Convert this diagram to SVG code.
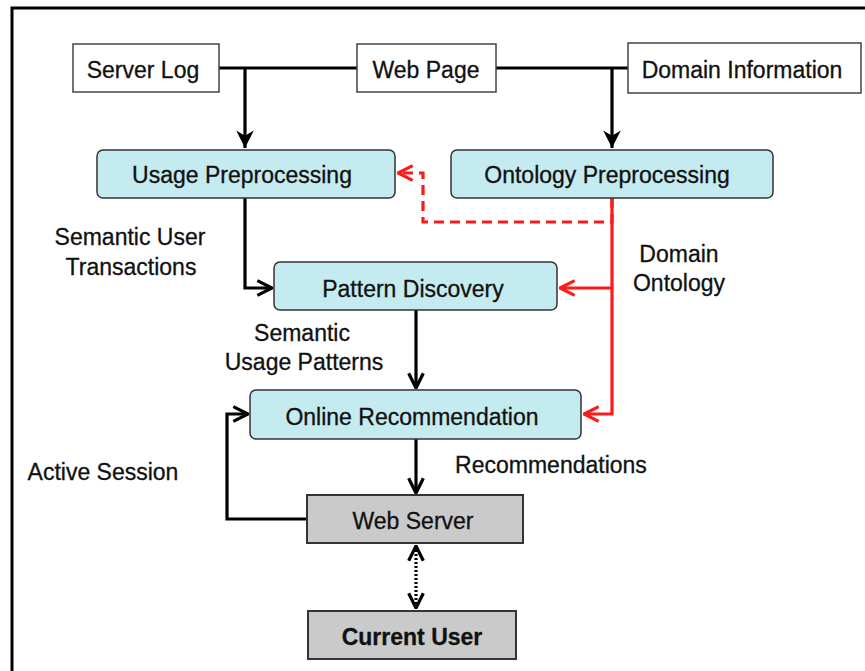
<svg xmlns="http://www.w3.org/2000/svg" width="865" height="671" viewBox="0 0 865 671">
  <style>
    text { font-family: "Liberation Sans", Arial, sans-serif; font-size: 23px; fill: #111; stroke: #111; stroke-width: 0.3; }
    .c { text-anchor: middle; }
    .src { fill: #ffffff; stroke: #444; stroke-width: 1.5; }
    .proc { fill: #c4ebef; stroke: #333; stroke-width: 1.5; }
    .srv { fill: #cacaca; stroke: #333; stroke-width: 2; }
    .blk { fill: none; stroke: #000; stroke-width: 3.2; }
    .red { fill: none; stroke: #ff1a1a; stroke-width: 3.2; }
    .reddash { fill: none; stroke: #ff1a1a; stroke-width: 3.2; stroke-dasharray: 10 6; }
    .dot { fill: none; stroke: #000; stroke-width: 3.2; stroke-dasharray: 2 2; }
    .bold { font-weight: bold; }
  </style>
  <defs>
    <marker id="tri" viewBox="0 0 10 10" refX="10" refY="5" markerWidth="5.5" markerHeight="5.5" orient="auto" markerUnits="strokeWidth">
      <path d="M0,0 L10,5 L0,10 L3,5 z" fill="#000"/>
    </marker>
    <marker id="vee" viewBox="0 0 12 12" refX="11" refY="6" markerWidth="5.5" markerHeight="5.5" orient="auto" markerUnits="strokeWidth">
      <path d="M1,1 L11,6 L1,11" fill="none" stroke="#000" stroke-width="2.2"/>
    </marker>
    <marker id="veeRed" viewBox="0 0 12 12" refX="11" refY="6" markerWidth="5.5" markerHeight="5.5" orient="auto" markerUnits="strokeWidth">
      <path d="M1,1 L11,6 L1,11" fill="none" stroke="#ff1a1a" stroke-width="2.2"/>
    </marker>
    <marker id="veeStart" viewBox="0 0 12 12" refX="1" refY="6" markerWidth="5.5" markerHeight="5.5" orient="auto" markerUnits="strokeWidth">
      <path d="M11,1 L1,6 L11,11" fill="none" stroke="#000" stroke-width="2.2"/>
    </marker>
  </defs>

  <!-- outer frame -->
  <path d="M12,671 L12,8 L865,8" fill="none" stroke="#000" stroke-width="3"/>

  <g id="connectors">
    <!-- data sources feeding preprocessing -->
    <path class="blk" d="M219,68 L357,68 M496,68 L628,68"/>
    <path class="blk" d="M245,68 L245,148" marker-end="url(#tri)"/>
    <path class="blk" d="M612,68 L612,148" marker-end="url(#tri)"/>
    <!-- usage preprocessing to pattern discovery -->
    <path class="blk" d="M245,198 L245,288 L272,288" marker-end="url(#vee)"/>
    <!-- ontology feedback to usage preprocessing -->
    <path class="reddash" d="M612,198 L612,222 L423,222 L423,173 L398,173" marker-end="url(#veeRed)"/>
    <!-- domain ontology -->
    <path class="red" d="M612,198 L612,414 L584,414" marker-end="url(#veeRed)"/>
    <path class="red" d="M612,288 L560,288" marker-end="url(#veeRed)"/>
    <!-- pattern discovery to online recommendation -->
    <path class="blk" d="M416,310 L416,388" marker-end="url(#vee)"/>
    <!-- recommendations to web server -->
    <path class="blk" d="M416,439 L416,493" marker-end="url(#vee)"/>
    <!-- active session loop -->
    <path class="blk" d="M307,519 L227,519 L227,414 L248,414" marker-end="url(#vee)"/>
    <!-- web server and current user -->
    <path class="dot" d="M416,546 L416,608" marker-start="url(#veeStart)" marker-end="url(#vee)"/>
  </g>

  <g id="server-log">
    <rect class="src" x="73" y="44" width="146" height="48"/>
    <text class="c" x="143" y="78">Server Log</text>
  </g>
  <g id="web-page">
    <rect class="src" x="357" y="44" width="139" height="48"/>
    <text class="c" x="426" y="78">Web Page</text>
  </g>
  <g id="domain-information">
    <rect class="src" x="628" y="43" width="233" height="50"/>
    <text class="c" x="742" y="78">Domain Information</text>
  </g>

  <g id="usage-preprocessing">
    <rect class="proc" x="97" y="150" width="298" height="48" rx="6"/>
    <text class="c" x="242" y="183">Usage Preprocessing</text>
  </g>
  <g id="ontology-preprocessing">
    <rect class="proc" x="451" y="150" width="322" height="48" rx="6"/>
    <text class="c" x="607" y="183">Ontology Preprocessing</text>
  </g>
  <g id="pattern-discovery">
    <rect class="proc" x="274" y="262" width="283" height="48" rx="6"/>
    <text class="c" x="413" y="297">Pattern Discovery</text>
  </g>
  <g id="online-recommendation">
    <rect class="proc" x="250" y="390" width="331" height="49" rx="6"/>
    <text class="c" x="412" y="425">Online Recommendation</text>
  </g>
  <g id="web-server">
    <rect class="srv" x="307" y="495" width="216" height="48"/>
    <text class="c" x="413" y="529">Web Server</text>
  </g>
  <g id="current-user">
    <rect class="srv" x="308" y="611" width="208" height="48"/>
    <text class="c bold" x="412" y="645">Current User</text>
  </g>

  <g id="labels">
    <text class="c" x="130" y="245">Semantic User</text>
    <text class="c" x="131" y="275">Transactions</text>
    <text class="c" x="679" y="262">Domain</text>
    <text class="c" x="679" y="291">Ontology</text>
    <text class="c" x="302" y="341">Semantic</text>
    <text class="c" x="304" y="370">Usage Patterns</text>
    <text class="c" x="551" y="473">Recommendations</text>
    <text class="c" x="103" y="480">Active Session</text>
  </g>
</svg>
